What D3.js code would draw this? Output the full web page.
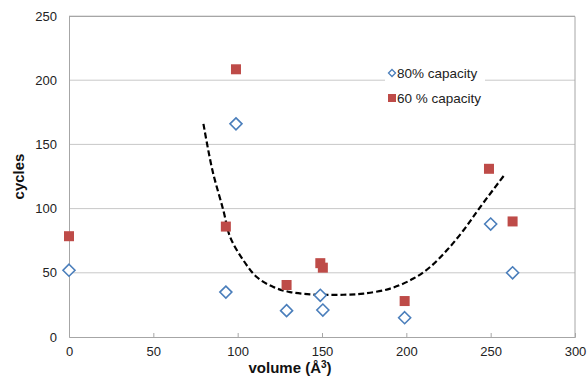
<!DOCTYPE html>
<html>
<head>
<meta charset="utf-8">
<script src="https://cdn.jsdelivr.net/npm/d3@7"></script>
<style>
  body { margin: 0; background: #fff; }
  svg { display: block; font-family: "Liberation Sans", Arial, sans-serif; }
</style>
</head>
<body>
<script>
// ---- data ----
const xTicks = [0, 50, 100, 150, 200, 250, 300];
const yTicks = [0, 50, 100, 150, 200, 250];

const s80Name = "80% capacity";
const s80X = [0, 93, 99, 129, 149, 150.5, 199, 250, 263];
const s80Y = [52, 35, 166, 20.5, 32.5, 21, 15, 88, 50];

const s60Name = "60 % capacity";
const s60X = [0, 93, 99, 129, 149, 150.5, 199, 249, 263];
const s60Y = [78.5, 86, 208.5, 40.5, 57.5, 54, 28, 131, 90];

const trendX = [79.7, 85, 91.5, 95.5, 103.4, 111.3, 121.2, 131.1, 143, 155, 165, 174.6, 190.4, 204.2, 214.1, 224, 233.9, 243.8, 258.6];
const trendY = [166, 130, 98.7, 78, 59.7, 46.7, 38.9, 35, 33.2, 32.8, 33, 33.8, 37.7, 45.5, 54.5, 67.5, 83.1, 101.2, 127];

// ---- layout ----
const W = 588, H = 379;
const m = { left: 69, right: 13, top: 16, bottom: 42 };
const pw = W - m.left - m.right, ph = H - m.top - m.bottom;

const svg = d3.select("body").append("svg").attr("width", W).attr("height", H);
const g = svg.append("g").attr("transform", `translate(${m.left},${m.top})`);

const x = d3.scaleLinear().domain([0, 300]).range([0, pw]);
const y = d3.scaleLinear().domain([0, 250]).range([ph, 0]);

// gridlines
g.append("g").selectAll("line").data(yTicks.filter(d => d > 0)).join("line")
  .attr("x1", 0).attr("x2", pw)
  .attr("y1", d => y(d)).attr("y2", d => y(d))
  .attr("stroke", "#c8c8c8").attr("stroke-width", 1);

// border (top, right)
g.append("path")
  .attr("d", `M0,0.5H${pw}V${ph}`)
  .attr("fill", "none").attr("stroke", "#a6a6a6").attr("stroke-width", 1);

// x axis
const xAxis = g.append("g").attr("transform", `translate(0,${ph})`)
  .call(d3.axisBottom(x).tickValues(xTicks).tickSize(-4).tickPadding(10));
xAxis.select(".domain").attr("stroke", "#a6a6a6");
xAxis.selectAll(".tick line").attr("stroke", "#a6a6a6");
xAxis.selectAll("text").attr("font-size", 13).attr("fill", "#222")
  .attr("font-family", "Liberation Sans, Arial, sans-serif");

// y axis
const yAxis = g.append("g")
  .call(d3.axisLeft(y).tickValues(yTicks).tickSize(0).tickPadding(12));
yAxis.select(".domain").attr("stroke", "#a6a6a6");
yAxis.selectAll("text").attr("font-size", 13).attr("fill", "#222")
  .attr("font-family", "Liberation Sans, Arial, sans-serif");

// axis titles
svg.append("text")
  .attr("transform", `translate(24,${m.top + y(125)}) rotate(-90)`)
  .attr("text-anchor", "middle")
  .attr("font-size", 15).attr("font-weight", "bold").attr("fill", "#111")
  .text("cycles");

const xt = svg.append("text")
  .attr("x", 290).attr("y", 373)
  .attr("text-anchor", "middle")
  .attr("font-size", 15).attr("font-weight", "bold").attr("fill", "#111");
xt.append("tspan").text("volume (Å");
xt.append("tspan").attr("font-size", 10).attr("dy", -5).text("3");
xt.append("tspan").attr("dy", 5).text(")");

// trend line
const line = d3.line().x((d, i) => x(trendX[i])).y(d => y(d)).curve(d3.curveCatmullRom);
g.append("path").datum(trendY)
  .attr("d", line)
  .attr("fill", "none").attr("stroke", "#000").attr("stroke-width", 2.2)
  .attr("stroke-dasharray", "6,3");

// 60% squares
const sq = 10;
g.append("g").selectAll("rect").data(s60X).join("rect")
  .attr("x", (d) => x(d) - sq / 2)
  .attr("y", (d, i) => y(s60Y[i]) - sq / 2)
  .attr("width", sq).attr("height", sq)
  .attr("fill", "#be4b48");

// 80% diamonds
const dsz = 6;
g.append("g").selectAll("path").data(s80X).join("path")
  .attr("transform", (d, i) => `translate(${x(d)},${y(s80Y[i])})`)
  .attr("d", `M0,${-dsz}L${dsz},0L0,${dsz}L${-dsz},0Z`)
  .attr("fill", "#fff").attr("stroke", "#4a7ebb").attr("stroke-width", 1.6);

// legend
const lg = svg.append("g");
lg.append("rect").attr("x", 385).attr("y", 62).attr("width", 100).attr("height", 48).attr("fill", "#fff");
lg.append("path")
  .attr("transform", "translate(392,73)")
  .attr("d", "M0,-3.5L3.5,0L0,3.5L-3.5,0Z")
  .attr("fill", "#fff").attr("stroke", "#4a7ebb").attr("stroke-width", 1.3);
lg.append("text").attr("x", 397).attr("y", 77.5).attr("font-size", 13.5).attr("fill", "#222").text(s80Name);
lg.append("rect").attr("x", 388).attr("y", 94).attr("width", 8).attr("height", 8).attr("fill", "#be4b48");
lg.append("text").attr("x", 397).attr("y", 103).attr("font-size", 13.5).attr("fill", "#222").text(s60Name);
</script>
</body>
</html>
